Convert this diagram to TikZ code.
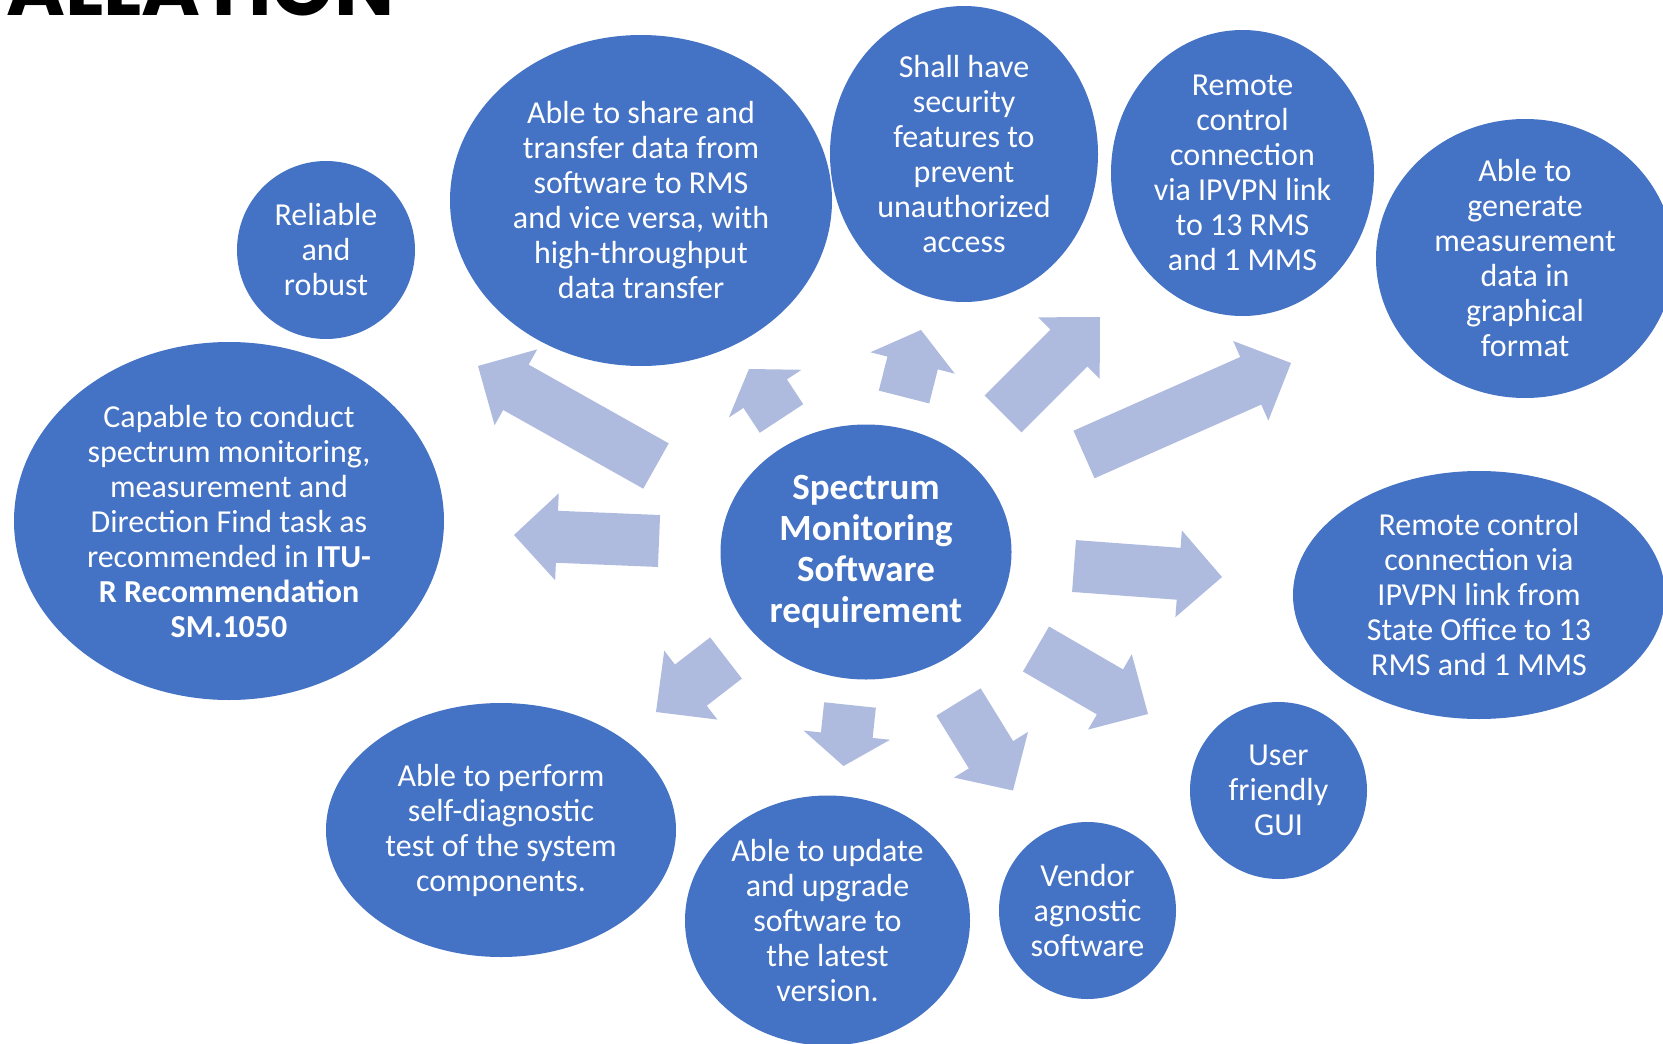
\documentclass[tikz,border=0pt]{standalone}
\usepackage{fontspec}
\setmainfont{Carlito}
\newfontfamily\ttlfont{Poppins}
\usetikzlibrary{shapes.geometric,calc}
\definecolor{bubblue}{HTML}{4472C4}
\definecolor{arrblue}{HTML}{AEBBDF}
% block arrow: tail, tip, head length
\newcommand\blkarrow[3]{%
  \coordinate (hb) at ($(#2)!#3!(#1)$);
  \fill[blk] ($(#1)!26pt!90:(#2)$) -- ($(hb)!26pt!-90:(#1)$)
    -- ($(hb)!43.5pt!-90:(#1)$) -- (#2) -- ($(hb)!43.5pt!90:(#1)$)
    -- ($(hb)!26pt!90:(#1)$) -- ($(#1)!26pt!-90:(#2)$) -- cycle;}
\begin{document}
\begin{tikzpicture}[x=1pt,y=-1pt,
bub/.style 2 args = {ellipse,fill=bubblue,text=white,inner sep=-50pt,align=center,minimum width=#1pt,minimum height=#2pt,font=\fontsize{32}{35}\selectfont},
hub/.style = {bub={291}{255},font=\bfseries\fontsize{37}{41}\selectfont},
blk/.style = {fill=arrblue}
]
  \useasboundingbox (0,0) rectangle (1663,1044);
  \clip (0,0) rectangle (1663,1044);

  \node[anchor=base west,font=\ttlfont\bfseries\fontsize{80}{84}\selectfont] (ttl) at (3,15) {ALLATION};

  \node[hub] (smr) at (866,552) {Spectrum\\Monitoring\\Software\\requirement};

  \node[bub={178}{178}] (rel) at (326,250) {Reliable\\and\\robust};
  \node[bub={430}{358}] (cap) at (229,521) {Capable to conduct\\spectrum monitoring,\\measurement and\\Direction Find task as\\recommended in \textbf{ITU-}\\\textbf{R Recommendation}\\\textbf{SM.1050}};
  \node[bub={382}{331}] (shr) at (641,200.5) {Able to share and\\transfer data from\\software to RMS\\and vice versa, with\\high-throughput\\data transfer};
  \node[bub={268}{296}] (sec) at (964,154) {Shall have\\security\\features to\\prevent\\unauthorized\\access};
  \node[bub={263}{286}] (rc1) at (1242.5,173) {Remote\\control\\connection\\via IPVPN link\\to 13 RMS\\and 1 MMS};
  \node[bub={298}{279}] (gen) at (1525,258.5) {Able to\\generate\\measurement\\data in\\graphical\\format};
  \node[bub={372}{248}] (rc2) at (1479,595) {Remote control\\connection via\\IPVPN link from\\State Office to 13\\RMS and 1 MMS};
  \node[bub={177}{177}] (gui) at (1278.5,790.5) {User\\friendly\\GUI};
  \node[bub={177}{177}] (ven) at (1087.5,910.5) {Vendor\\agnostic\\software};
  \node[bub={285}{250}] (upd) at (827.5,920.5) {Able to update\\and upgrade\\software to\\the latest\\version.};
  \node[bub={350}{254}] (slf) at (501,830) {Able to perform\\self-diagnostic\\test of the system\\components.};

  % arrow tails and tips
  \coordinate (t1) at (656,466);    \coordinate (h1) at (478,366);
  \coordinate (t2) at (659,541);    \coordinate (h2) at (514,535);
  \coordinate (t3) at (781.5,418.5);\coordinate (h3) at (749,369);
  \coordinate (t4) at (904,397);    \coordinate (h4) at (921,330);
  \coordinate (t5) at (1003,414);   \coordinate (h5) at (1100,317);
  \coordinate (t6) at (1084,454.5); \coordinate (h6) at (1291,363);
  \coordinate (t7) at (1074,566);   \coordinate (h7) at (1222,577);
  \coordinate (t8) at (1036,649);   \coordinate (h8) at (1148,714);
  \coordinate (t9) at (958.5,702);  \coordinate (h9) at (1013,790.5);
  \coordinate (t10) at (850,705);   \coordinate (h10) at (843.5,766);
  \coordinate (t11) at (726,658);   \coordinate (h11) at (656,712);

  \blkarrow{t1}{h1}{43.5pt}
  \blkarrow{t2}{h2}{43pt}
  \blkarrow{t3}{h3}{29.5pt}
  \blkarrow{t4}{h4}{34pt}
  \blkarrow{t5}{h5}{44pt}
  \blkarrow{t6}{h6}{44pt}
  \blkarrow{t7}{h7}{43.5pt}
  \blkarrow{t8}{h8}{44pt}
  \blkarrow{t9}{h9}{42pt}
  \blkarrow{t10}{h10}{31pt}
  \blkarrow{t11}{h11}{44pt}

\end{tikzpicture}
\end{document}
